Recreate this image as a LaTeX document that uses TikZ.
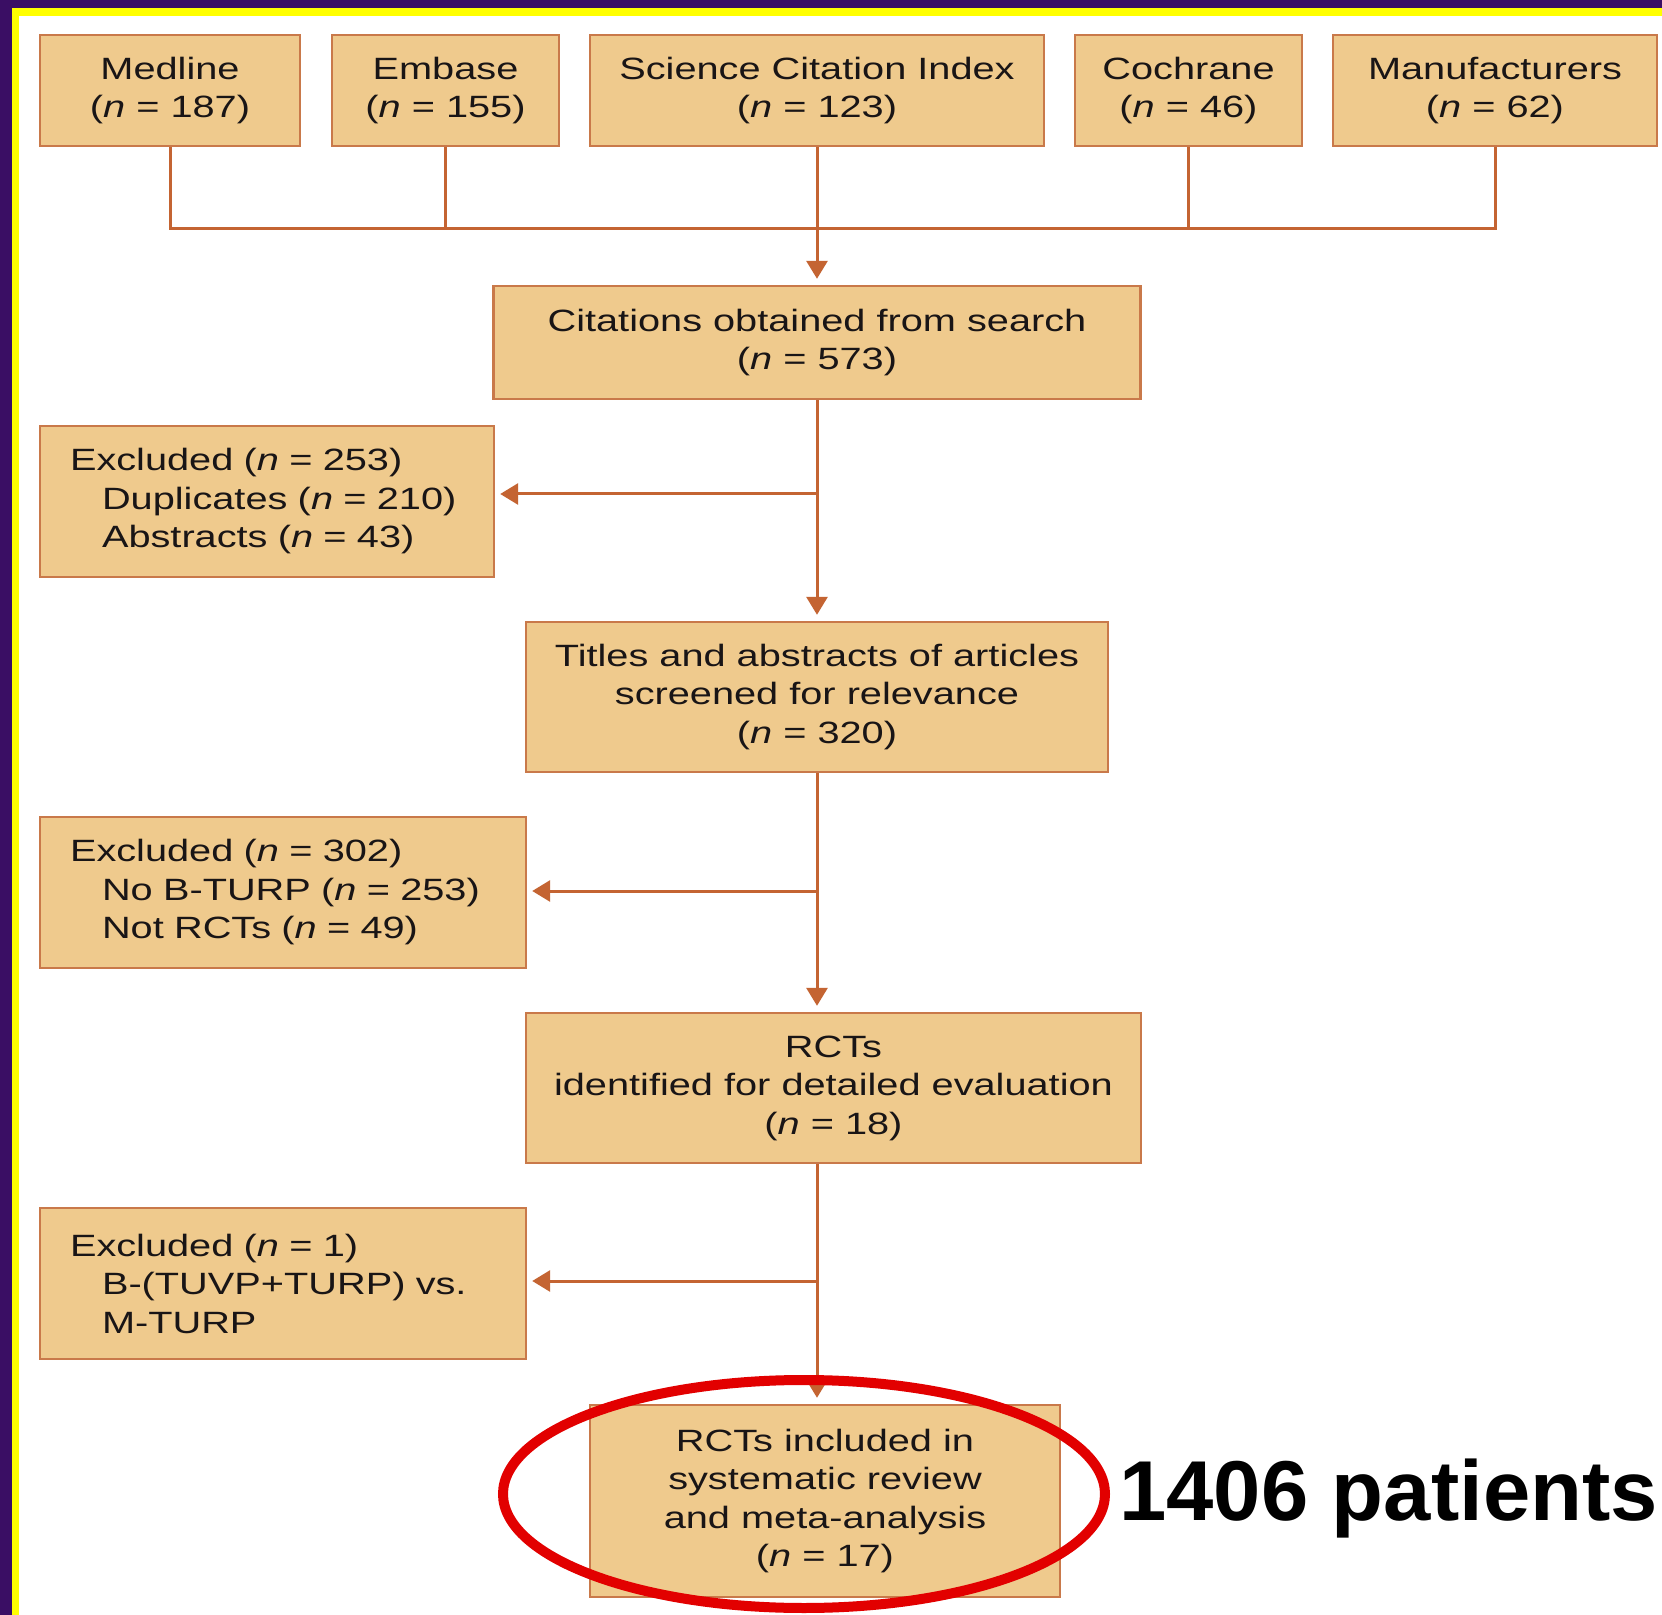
\documentclass[tikz,border=0pt]{standalone}
\usepackage{fontspec}
\setmainfont{Liberation Sans}[FakeStretch=1.29]
\newfontfamily\patfont{Liberation Sans}
\usetikzlibrary{arrows.meta}

\definecolor{boxfill}{RGB}{239,202,141}
\definecolor{boxline}{RGB}{201,121,74}
\definecolor{linkcol}{RGB}{196,100,50}
\definecolor{txtcol}{RGB}{25,21,22}
\definecolor{framepurple}{RGB}{58,14,100}
\definecolor{frameyellow}{RGB}{255,255,0}
\definecolor{ringred}{RGB}{226,0,0}

\newcommand{\nn}{\textit{n}}
\newcommand{\ind}{\hspace*{16pt}}

\tikzset{
  flowbox/.style={draw=boxline, line width=1.2pt, fill=boxfill, text=txtcol,
    font=\fontsize{15.4pt}{19.25pt}\selectfont, inner sep=0pt},
  srcbox/.style={flowbox, align=center, minimum height=55.5pt},
  stagebox/.style={flowbox, align=center, minimum height=75pt},
  exclbox/.style={flowbox, align=left, inner xsep=15pt, minimum height=75.5pt},
  link/.style={draw=linkcol, line width=1.5pt},
  arrow/.style={link, -{Triangle[width=10.5pt,length=9pt]}, shorten >=3pt},
}

\begin{document}
\begin{tikzpicture}[x=0.5pt,y=-0.5pt]
	\useasboundingbox (0,0) rectangle (1662,1615);
	% frame
	\fill[framepurple] (0,0) rectangle (1662,1615);
	\fill[frameyellow] (12,8) rectangle (1662,1615);
	\fill[white] (19,16) rectangle (1662,1615);

	% sources
	\node[srcbox, minimum width=130pt] (medline) at (170,90.5) {Medline\\(\nn{} = 187)};
	\node[srcbox, minimum width=113.5pt] (embase) at (445.5,90.5) {Embase\\(\nn{} = 155)};
	\node[srcbox, minimum width=227pt] (sci) at (817,90.5) {Science Citation Index\\(\nn{} = 123)};
	\node[srcbox, minimum width=113.5pt] (cochrane) at (1188.5,90.5) {Cochrane\\(\nn{} = 46)};
	\node[srcbox, minimum width=162pt] (manu) at (1495,90.5) {Manufacturers\\(\nn{} = 62)};

	% main stages
	\node[srcbox, minimum width=323.5pt, minimum height=56.5pt] (cit) at (817,342.5) {Citations obtained from search\\(\nn{} = 573)};
	\node[stagebox, minimum width=291pt] (titles) at (817,697) {Titles and abstracts of articles\\screened for relevance\\(\nn{} = 320)};
	\node[stagebox, minimum width=307.5pt] (rcts) at (833.5,1088) {RCTs\\identified for detailed evaluation\\(\nn{} = 18)};
	\node[stagebox, minimum width=235pt, minimum height=96pt] (final) at (825,1501) {RCTs included in\\systematic review\\and meta-analysis\\(\nn{} = 17)};

	% exclusions
	\node[exclbox, text width=197pt] (excl1) at (267,501.5) {Excluded (\nn{} = 253)\\\ind Duplicates (\nn{} = 210)\\\ind Abstracts (\nn{} = 43)};
	\node[exclbox, text width=213pt] (excl2) at (283,892.5) {Excluded (\nn{} = 302)\\\ind No B-TURP (\nn{} = 253)\\\ind Not RCTs (\nn{} = 49)};
	\node[exclbox, text width=213pt] (excl3) at (283,1283.5) {Excluded (\nn{} = 1)\\\ind B-(TUVP+TURP) vs.\\\ind M-TURP};

	% merge of the sources
	\coordinate (bus) at (817,229);
	\draw[link] (medline.south) -- (medline.south |- bus) -- (manu.south |- bus) -- (manu.south);
	\draw[link] (embase.south) -- (embase.south |- bus);
	\draw[link] (cochrane.south) -- (cochrane.south |- bus);
	\draw[arrow] (sci.south) -- (cit.north);

	% trunk
	\draw[arrow] (cit.south) -- (titles.north);
	\draw[arrow] (titles.south) -- (titles.south |- rcts.north);
	\draw[arrow] (titles.south |- rcts.south) -- (titles.south |- final.north);

	% side arrows
	\coordinate (e1) at (817,494);
	\coordinate (e2) at (817,891);
	\coordinate (e3) at (817,1281);
	\draw[arrow, shorten >=2.5pt] (e1) -- (e1 -| excl1.east);
	\draw[arrow, shorten >=2.5pt] (e2) -- (e2 -| excl2.east);
	\draw[arrow, shorten >=2.5pt] (e3) -- (e3 -| excl3.east);

	% highlight
	\draw[ringred, line width=5pt] (804,1494) ellipse [x radius=150.5pt, y radius=57pt];
	\node[anchor=base west, inner sep=0pt, font=\patfont\bfseries\fontsize{42.5pt}{50pt}\selectfont] (patients) at (1119,1520) {1406 patients};
\end{tikzpicture}
\end{document}
